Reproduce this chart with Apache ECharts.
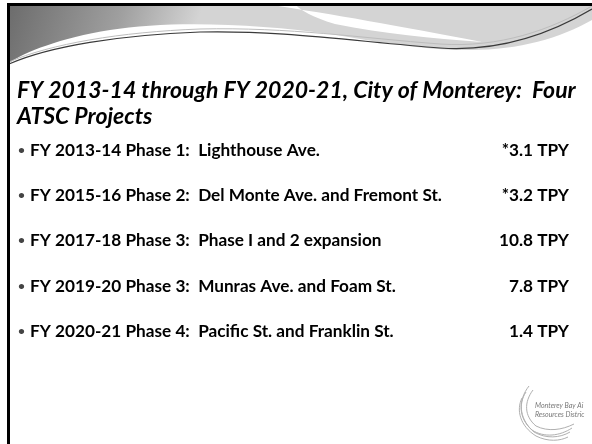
<!DOCTYPE html>
<html>
<head>
<meta charset="utf-8">
<script src="https://cdn.jsdelivr.net/npm/echarts@6/dist/echarts.min.js"></script>
<style>
  html, body { margin: 0; padding: 0; background: #fff; }
  #slide { width: 592px; height: 444px; }
</style>
</head>
<body>
<div id="slide"></div>
<script>
// slide content
const titleLines = ['FY 2013-14 through FY 2020-21, City of Monterey:  Four', 'ATSC Projects'];
const projects = [
    'FY 2013-14 Phase 1:  Lighthouse Ave.',
    'FY 2015-16 Phase 2:  Del Monte Ave. and Fremont St.',
    'FY 2017-18 Phase 3:  Phase I and 2 expansion',
    'FY 2019-20 Phase 3:  Munras Ave. and Foam St.',
    'FY 2020-21 Phase 4:  Pacific St. and Franklin St.'
];
const reductions = ['*3.1 TPY', '*3.2 TPY', '10.8 TPY', '7.8 TPY', '1.4 TPY'];
const logoLines = ['Monterey Bay Ai', 'Resources Distric'];

const slideChart = echarts.init(document.getElementById('slide'));

const FONT = 'Lato';
const rowY = [150, 195, 240, 286, 331];

// decoration drawn as one custom item (header swoosh, borders, logo)
const renderDecor = function () {
    let children = [];
    children.push({
        type: 'path',
        shape: {pathData: 'M9,5 L592,5 L592,20 C560,38 520,50 470,50 C420,50 380,42 330,34 C260,24 170,20 110,30 C60,38 25,52 9,63 Z'},
        style: {
            fill: new echarts.graphic.LinearGradient(0, 0, 0.3, 1, [
                {offset: 0, color: '#6c6c6c'},
                {offset: 0.6, color: '#a0a0a0'},
                {offset: 1, color: '#d4d4d4'}
            ])
        }
    });
    children.push({
        type: 'path',
        shape: {pathData: 'M272,5 C330,14 400,26 482,42 C430,38 385,34 335,24 C312,17 300,10 296,5 Z'},
        style: {fill: '#ffffff'}
    });
    children.push({
        type: 'path',
        shape: {pathData: 'M9,64 C50,46 120,35 200,32 C280,30 360,42 440,48 C500,52 550,34 592,9'},
        style: {fill: 'none', stroke: '#3a3a3a', lineWidth: 1.2}
    });
    children.push({
        type: 'path',
        shape: {pathData: 'M9,62 C50,44 120,32 200,29 C290,27 360,38 440,44 C500,48 550,30 592,6'},
        style: {fill: 'none', stroke: '#bdbdbd', lineWidth: 1}
    });
    // borders
    children.push({type: 'rect', shape: {x: 7, y: 3, width: 585, height: 3}, style: {fill: '#000'}});
    children.push({type: 'rect', shape: {x: 7, y: 3, width: 3, height: 441}, style: {fill: '#000'}});
    // logo swoosh
    ['M529,386 C518,400 518,418 532,430 C544,438 560,436 572,428',
     'M526,392 C518,404 520,420 534,432 C546,439 560,438 570,432',
     'M533,390 C524,402 524,416 536,426 C548,432 562,430 574,424',
     'M522,398 C516,410 520,426 536,436 C548,442 560,441 568,437'].forEach(function (d) {
        children.push({type: 'path', shape: {pathData: d}, style: {fill: 'none', stroke: '#b0b0b0', lineWidth: 1}});
    });
    return {type: 'group', children: children};
};

let elements = [];

// title
titleLines.forEach(function (t, i) {
    elements.push({
        type: 'text',
        x: 17, y: 91 + i * 26,
        style: {
            text: t, fill: '#000',
            font: 'italic bold 23px ' + FONT,
            verticalAlign: 'middle'
        }
    });
});

// bullet rows
projects.forEach(function (p, i) {
    elements.push({
        type: 'text', x: 18, y: rowY[i],
        style: {text: '•', fill: '#444', font: 'bold 12px ' + FONT, verticalAlign: 'middle'}
    });
    elements.push({
        type: 'text', x: 30, y: rowY[i],
        style: {text: p, fill: '#000', font: 'bold 17.2px ' + FONT, verticalAlign: 'middle'}
    });
    elements.push({
        type: 'text', x: 569, y: rowY[i],
        style: {text: reductions[i], fill: '#000', font: 'bold 17.2px ' + FONT,
            align: 'right', verticalAlign: 'middle'}
    });
});

logoLines.forEach(function (t, i) {
    elements.push({
        type: 'text', x: 535, y: 406 + i * 9,
        style: {text: t, fill: '#777', font: 'italic 7px ' + FONT, verticalAlign: 'middle'}
    });
});

slideChart.setOption({
    animation: false,
    backgroundColor: '#fff',
    series: [{
        type: 'custom',
        coordinateSystem: 'none',
        silent: true,
        data: [[0]],
        renderItem: renderDecor
    }],
    graphic: {elements: elements}
});
</script>
</body>
</html>
